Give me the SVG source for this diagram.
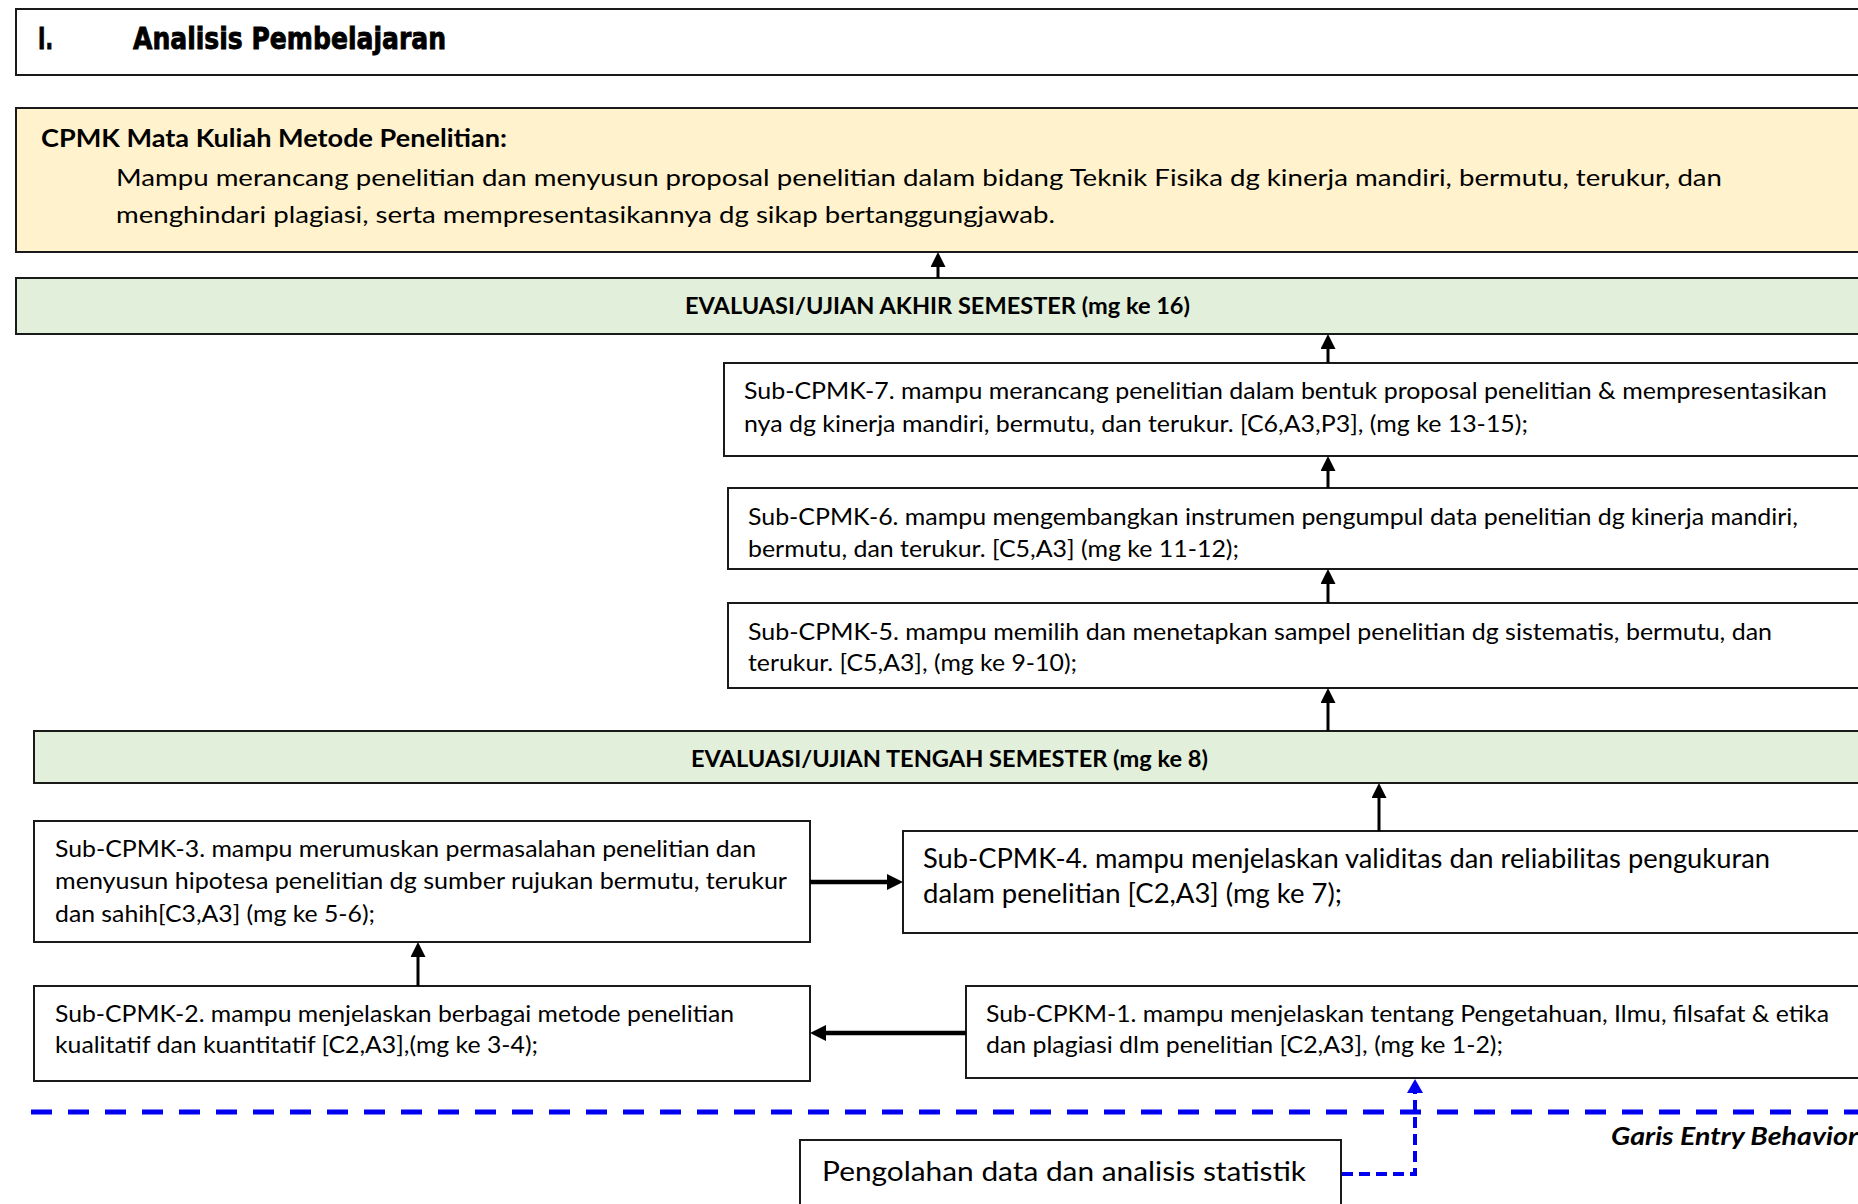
<svg xmlns="http://www.w3.org/2000/svg" width="1858" height="1204" viewBox="0 0 1858 1204">
<style>
  .box { fill: #ffffff; stroke: #1a1a1a; stroke-width: 2; }
  .cpmk { fill: #FFF2CC; stroke: #1a1a1a; stroke-width: 2; }
  .eval { fill: #E2EFDA; stroke: #1a1a1a; stroke-width: 2; }
  .t { font-family: Lato, "Open Sans", "Liberation Sans", sans-serif; font-size: 24px; fill: #000; }
  .tl { font-family: Lato, "Open Sans", "Liberation Sans", sans-serif; font-size: 26px; fill: #000; }
  .tb { font-family: Lato, "Open Sans", "Liberation Sans", sans-serif; font-size: 22px; font-weight: bold; fill: #000; }
  .hb { font-family: Lato, "Open Sans", "Liberation Sans", sans-serif; font-size: 25px; font-weight: bold; fill: #000; }
  .title { font-family: "DejaVu Sans", "Liberation Sans", sans-serif; font-size: 31px; font-weight: bold; fill: #000; stroke: #000; stroke-width: 0.9; }
  .gi { font-family: Lato, "Open Sans", "Liberation Sans", sans-serif; font-size: 25px; font-weight: bold; font-style: italic; fill: #000; }
  .arr { stroke: #000; stroke-width: 3; fill: none; marker-end: url(#ah); }
  .arrT { stroke: #000; stroke-width: 4.5; fill: none; marker-end: url(#ahT); }
  .blueDash { stroke: #0000F0; stroke-width: 5; stroke-dasharray: 21 16; fill: none; }
  .blueDot { stroke: #0000F0; stroke-width: 4; stroke-dasharray: 11 6; fill: none; marker-end: url(#ahB); }
</style>
<defs>
  <marker id="ah" viewBox="0 0 15 15" refX="4" refY="7.5" markerWidth="15" markerHeight="15" markerUnits="userSpaceOnUse" orient="auto">
    <path d="M0,0 L15,7.5 L0,15 z" fill="#000"/>
  </marker>
  <marker id="ahT" viewBox="0 0 16 16" refX="5" refY="8" markerWidth="16" markerHeight="16" markerUnits="userSpaceOnUse" orient="auto">
    <path d="M0,0 L16,8 L0,16 z" fill="#000"/>
  </marker>
  <marker id="ahB" viewBox="0 0 14 16" refX="4" refY="8" markerWidth="14" markerHeight="16" markerUnits="userSpaceOnUse" orient="auto">
    <path d="M0,0 L14,8 L0,16 z" fill="#0000F0"/>
  </marker>
</defs>
<rect x="0" y="0" width="1858" height="1204" fill="#ffffff"/>

<g id="title">
  <rect class="box" x="16" y="9" width="1860" height="66"/>
  <text class="title" x="38" y="49" textLength="15" lengthAdjust="spacingAndGlyphs">I.</text>
  <text class="title" x="133" y="49" textLength="313" lengthAdjust="spacingAndGlyphs">Analisis Pembelajaran</text>
</g>

<g id="cpmk">
  <rect class="cpmk" x="16" y="108" width="1860" height="144"/>
  <text class="hb" x="41" y="147" textLength="466" lengthAdjust="spacingAndGlyphs">CPMK Mata Kuliah Metode Penelitian:</text>
  <text class="t" x="116" y="186" textLength="1606" lengthAdjust="spacingAndGlyphs">Mampu merancang penelitian dan menyusun proposal penelitian dalam bidang Teknik Fisika dg kinerja mandiri, bermutu, terukur, dan</text>
  <text class="t" x="116" y="223" textLength="939" lengthAdjust="spacingAndGlyphs">menghindari plagiasi, serta mempresentasikannya dg sikap bertanggungjawab.</text>
</g>

<g id="uas">
  <rect class="eval" x="16" y="278" width="1860" height="56"/>
  <text class="tb" x="685" y="314" textLength="505" lengthAdjust="spacingAndGlyphs">EVALUASI/UJIAN AKHIR SEMESTER (mg ke 16)</text>
</g>

<g id="sub7">
  <rect class="box" x="724" y="363" width="1150" height="93"/>
  <text class="t" x="744" y="399" textLength="1083" lengthAdjust="spacingAndGlyphs">Sub-CPMK-7. mampu merancang penelitian dalam bentuk proposal penelitian &amp; mempresentasikan</text>
  <text class="t" x="744" y="432" textLength="784" lengthAdjust="spacingAndGlyphs">nya dg kinerja mandiri, bermutu, dan terukur. [C6,A3,P3], (mg ke 13-15);</text>
</g>

<g id="sub6">
  <rect class="box" x="728" y="488" width="1150" height="81"/>
  <text class="t" x="748" y="525" textLength="1050" lengthAdjust="spacingAndGlyphs">Sub-CPMK-6. mampu mengembangkan instrumen pengumpul data penelitian dg kinerja mandiri,</text>
  <text class="t" x="748" y="557" textLength="491" lengthAdjust="spacingAndGlyphs">bermutu, dan terukur. [C5,A3] (mg ke 11-12);</text>
</g>

<g id="sub5">
  <rect class="box" x="728" y="603" width="1150" height="85"/>
  <text class="t" x="748" y="640" textLength="1024" lengthAdjust="spacingAndGlyphs">Sub-CPMK-5. mampu memilih dan menetapkan sampel penelitian dg sistematis, bermutu, dan</text>
  <text class="t" x="748" y="671" textLength="329" lengthAdjust="spacingAndGlyphs">terukur. [C5,A3], (mg ke 9-10);</text>
</g>

<g id="uts">
  <rect class="eval" x="34" y="731" width="1850" height="52"/>
  <text class="tb" x="691" y="767" textLength="517" lengthAdjust="spacingAndGlyphs">EVALUASI/UJIAN TENGAH SEMESTER (mg ke 8)</text>
</g>

<g id="sub4">
  <rect class="box" x="903" y="831" width="980" height="102"/>
  <text class="tl" x="923" y="868" textLength="847" lengthAdjust="spacingAndGlyphs">Sub-CPMK-4. mampu menjelaskan validitas dan reliabilitas pengukuran</text>
  <text class="tl" x="923" y="903" textLength="419" lengthAdjust="spacingAndGlyphs">dalam penelitian [C2,A3] (mg ke 7);</text>
</g>

<g id="sub3">
  <rect class="box" x="34" y="821" width="776" height="121"/>
  <text class="t" x="55" y="857" textLength="701" lengthAdjust="spacingAndGlyphs">Sub-CPMK-3. mampu merumuskan permasalahan penelitian dan</text>
  <text class="t" x="55" y="889" textLength="732" lengthAdjust="spacingAndGlyphs">menyusun hipotesa penelitian dg sumber rujukan bermutu, terukur</text>
  <text class="t" x="55" y="922" textLength="320" lengthAdjust="spacingAndGlyphs">dan sahih[C3,A3] (mg ke 5-6);</text>
</g>

<g id="sub2">
  <rect class="box" x="34" y="986" width="776" height="95"/>
  <text class="t" x="55" y="1022" textLength="679" lengthAdjust="spacingAndGlyphs">Sub-CPMK-2. mampu menjelaskan berbagai metode penelitian</text>
  <text class="t" x="55" y="1053" textLength="483" lengthAdjust="spacingAndGlyphs">kualitatif dan kuantitatif [C2,A3],(mg ke 3-4);</text>
</g>

<g id="sub1">
  <rect class="box" x="966" y="986" width="920" height="92"/>
  <text class="t" x="986" y="1022" textLength="843" lengthAdjust="spacingAndGlyphs">Sub-CPKM-1. mampu menjelaskan tentang Pengetahuan, Ilmu, filsafat &amp; etika</text>
  <text class="t" x="986" y="1053" textLength="517" lengthAdjust="spacingAndGlyphs">dan plagiasi dlm penelitian [C2,A3], (mg ke 1-2);</text>
</g>

<g id="entry-line">
  <line class="blueDash" x1="31" y1="1112" x2="1870" y2="1112"/>
  <text class="gi" x="1611" y="1145" textLength="247" lengthAdjust="spacingAndGlyphs">Garis Entry Behavior</text>
</g>

<g id="pengolahan">
  <rect class="box" x="800" y="1140" width="541" height="80"/>
  <text class="tl" x="822" y="1181" textLength="484" lengthAdjust="spacingAndGlyphs">Pengolahan data dan analisis statistik</text>
</g>

<g id="connectors">
  <line class="arr" x1="938" y1="278" x2="938" y2="263"/>
  <line class="arr" x1="1328" y1="363" x2="1328" y2="345"/>
  <line class="arr" x1="1328" y1="488" x2="1328" y2="467"/>
  <line class="arr" x1="1328" y1="603" x2="1328" y2="580"/>
  <line class="arr" x1="1328" y1="731" x2="1328" y2="699"/>
  <line class="arr" x1="1379" y1="831" x2="1379" y2="794"/>
  <line class="arr" x1="418" y1="986" x2="418" y2="953"/>
  <line class="arrT" x1="810" y1="882" x2="892" y2="882"/>
  <line class="arrT" x1="966" y1="1033" x2="821" y2="1033"/>
  <path class="blueDot" d="M1342,1174 H1415 V1089"/>
</g>
</svg>
